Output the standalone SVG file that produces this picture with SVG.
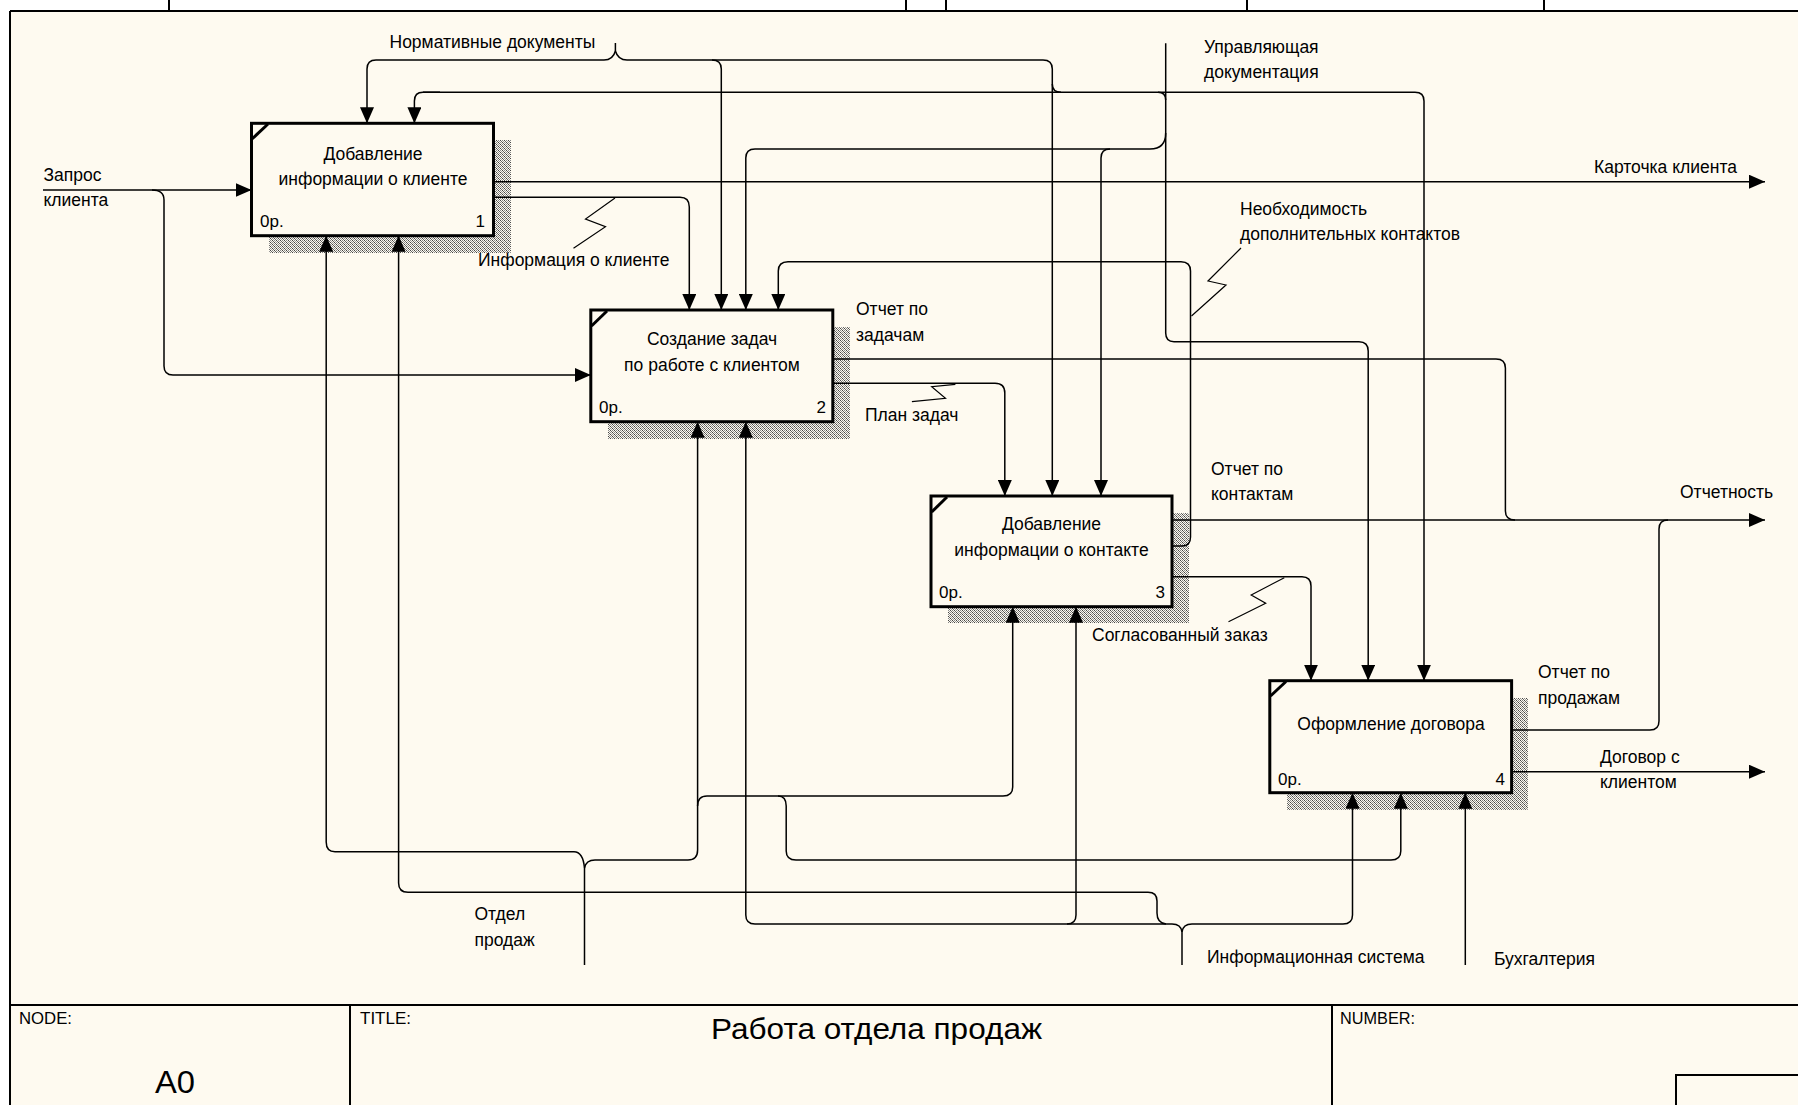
<svg xmlns="http://www.w3.org/2000/svg" width="1798" height="1105" viewBox="0 0 1798 1105">
  <defs>
    <pattern id="hatch" width="4" height="4" patternUnits="userSpaceOnUse">
      <rect width="4" height="4" fill="#fefaf0"/>
      <rect x="0" y="0" width="1" height="1" fill="#444"/>
      <rect x="2" y="0" width="1" height="1" fill="#888"/>
      <rect x="1" y="1" width="1" height="1" fill="#666"/>
      <rect x="3" y="1" width="1" height="1" fill="#999"/>
      <rect x="0" y="2" width="1" height="1" fill="#888"/>
      <rect x="2" y="2" width="1" height="1" fill="#444"/>
      <rect x="1" y="3" width="1" height="1" fill="#999"/>
      <rect x="3" y="3" width="1" height="1" fill="#666"/>
    </pattern>
    <marker id="ah" viewBox="0 0 16 14" refX="16" refY="7" markerWidth="16" markerHeight="14" markerUnits="userSpaceOnUse" orient="auto">
      <path d="M0,0 L16,7 L0,14 Z" fill="#000"/>
    </marker>
    <style>
      .bg { fill: #fefaf0; }
      .frame { stroke: #000; stroke-width: 2; fill: none; }
      .box { fill: #fefaf0; stroke: #000; stroke-width: 3; }
      .shadow { fill: url(#hatch); }
      .corner { stroke: #000; stroke-width: 3; }
      .ln { fill: none; stroke: #000; stroke-width: 1.5; }
      .arr { fill: none; stroke: #000; stroke-width: 1.5; marker-end: url(#ah); }
      .zig { fill: none; stroke: #000; stroke-width: 1.2; }
      text { font-family: "Liberation Sans", Arial, sans-serif; fill: #000; }
      .lbl { font-size: 17.5px; }
      .bt { font-size: 17.5px; text-anchor: middle; }
      .num { font-size: 17px; }
      .hdr { font-size: 17px; }
    </style>
  </defs>

  <!-- page -->
  <rect x="0" y="0" width="1798" height="1105" fill="#ffffff"/>
  <rect class="bg" x="10" y="11" width="1788" height="1094"/>
  <g id="frame">
    <line class="frame" x1="10" y1="11" x2="1798" y2="11"/>
    <line class="frame" x1="10" y1="11" x2="10" y2="1105"/>
    <line class="frame" x1="169" y1="0" x2="169" y2="11"/>
    <line class="frame" x1="906" y1="0" x2="906" y2="11"/>
    <line class="frame" x1="946" y1="0" x2="946" y2="11"/>
    <line class="frame" x1="1247" y1="0" x2="1247" y2="11"/>
    <line class="frame" x1="1544" y1="0" x2="1544" y2="11"/>
  </g>

  <!-- title block -->
  <g id="title-block">
    <line class="frame" x1="10" y1="1005" x2="1798" y2="1005"/>
    <line class="frame" x1="350" y1="1005" x2="350" y2="1105"/>
    <line class="frame" x1="1332" y1="1005" x2="1332" y2="1105"/>
    <rect x="1676" y="1075" width="130" height="40" fill="none" stroke="#000" stroke-width="2"/>
    <text class="hdr" x="19" y="1024" textLength="53" lengthAdjust="spacingAndGlyphs">NODE:</text>
    <text x="155" y="1093" font-size="31" textLength="40" lengthAdjust="spacingAndGlyphs">A0</text>
    <text class="hdr" x="360" y="1024" textLength="51" lengthAdjust="spacingAndGlyphs">TITLE:</text>
    <text x="711" y="1039" font-size="29" textLength="331" lengthAdjust="spacingAndGlyphs">Работа отдела продаж</text>
    <text class="hdr" x="1340" y="1024" textLength="75" lengthAdjust="spacingAndGlyphs">NUMBER:</text>
  </g>

  <!-- activity boxes -->
  <g id="box1">
    <rect class="shadow" x="269" y="140" width="242" height="113"/>
    <rect class="box" x="251.5" y="123.3" width="242" height="112.4"/>
    <line class="corner" x1="252" y1="139" x2="268" y2="124"/>
    <text class="bt" x="373" y="160">Добавление</text>
    <text class="bt" x="373" y="185">информации о клиенте</text>
    <text class="num" x="260" y="227">0р.</text>
    <text class="num" x="485" y="227" text-anchor="end">1</text>
  </g>
  <g id="box2">
    <rect class="shadow" x="608" y="327" width="242" height="112"/>
    <rect class="box" x="590.8" y="310" width="242" height="111.7"/>
    <line class="corner" x1="591.5" y1="326" x2="607" y2="311"/>
    <text class="bt" x="712" y="345">Создание задач</text>
    <text class="bt" x="712" y="371">по работе с клиентом</text>
    <text class="num" x="599" y="413">0р.</text>
    <text class="num" x="826" y="413" text-anchor="end">2</text>
  </g>
  <g id="box3">
    <rect class="shadow" x="948" y="513" width="241" height="110"/>
    <rect class="box" x="931" y="496" width="241" height="110.7"/>
    <line class="corner" x1="931.7" y1="512" x2="947" y2="497"/>
    <text class="bt" x="1051.5" y="530">Добавление</text>
    <text class="bt" x="1051.5" y="556">информации о контакте</text>
    <text class="num" x="939" y="598">0р.</text>
    <text class="num" x="1165" y="598" text-anchor="end">3</text>
  </g>
  <g id="box4">
    <rect class="shadow" x="1287" y="698" width="241" height="112"/>
    <rect class="box" x="1269.8" y="680.7" width="241.8" height="112"/>
    <line class="corner" x1="1270.5" y1="696" x2="1286" y2="681.5"/>
    <text class="bt" x="1391" y="730">Оформление договора</text>
    <text class="num" x="1278" y="785">0р.</text>
    <text class="num" x="1505" y="785" text-anchor="end">4</text>
  </g>

  <!-- arrows -->
  <g id="connectors">
    <!-- Запрос клиента -->
    <path class="arr" d="M43,190 H251.5"/>
    <path class="arr" d="M152,190 Q164,190 164,200 V366 Q164,375 173,375 H590.8"/>
    <!-- Карточка клиента -->
    <path class="arr" d="M493.5,181.7 H1765"/>
    <!-- Информация о клиенте -->
    <path class="arr" d="M493.5,197.3 H680 Q689.3,197.3 689.3,207 V310"/>
    <polyline class="zig" points="615,198 585.5,219 605.5,226.7 573.5,248.3"/>

    <!-- Нормативные документы -->
    <path class="ln" d="M615.4,43 V51"/>
    <path class="arr" d="M615.4,51 Q613,60 604,60 H376 Q367,60 367,69 V123.3"/>
    <path class="arr" d="M615.4,51 Q618,60 627,60 H1043 Q1052.3,60 1052.3,69 V496"/>
    <path class="arr" d="M712,60 Q721.3,60 721.3,69 V310"/>

    <!-- line at y=92 -->
    <path class="arr" d="M440,92.3 H423 Q414.4,92.3 414.4,101 V123.3"/>
    <path class="arr" d="M423,92.3 H1415 Q1424,92.3 1424,101 V680.7"/>
    <path class="ln" d="M1052.3,84 Q1052.3,92.3 1061,92.3"/>
    <path class="ln" d="M1158,92.3 Q1165.7,92.3 1165.7,100"/>

    <!-- Управляющая документация -->
    <path class="arr" d="M1165.7,43.3 V333 Q1165.7,341.7 1174,341.7 H1359 Q1368.2,341.7 1368.2,351 V680.7"/>
    <path class="arr" d="M1165.7,133 Q1165.7,149 1150,149 H755 Q745.8,149 745.8,158 V310"/>
    <path class="arr" d="M1110,149 Q1101,149 1101,158 V496"/>

    <!-- Необходимость дополнительных контактов -->
    <path class="arr" d="M1172,546 H1182 Q1190.5,546 1190.5,537 V271 Q1190.5,261.7 1181,261.7 H788 Q778.3,261.7 778.3,271 V310"/>
    <polyline class="zig" points="1241,248 1208,281 1226,285 1191.5,316"/>

    <!-- Отчет по задачам -->
    <path class="ln" d="M832.8,359 H1496 Q1505.4,359 1505.4,368 V511 Q1505.4,520 1515,520"/>
    <!-- План задач -->
    <path class="arr" d="M832.8,383.3 H995 Q1004.8,383.3 1004.8,393 V496"/>
    <polyline class="zig" points="955.4,384.3 931.7,386.7 945.5,398.3 911.9,401.7"/>

    <!-- Отчет по контактам / Отчетность -->
    <path class="arr" d="M1172,520 H1765"/>
    <!-- Согласованный заказ -->
    <path class="arr" d="M1172,576.7 H1302 Q1311,576.7 1311,586 V680.7"/>
    <polyline class="zig" points="1284.3,577.7 1251.2,595 1265.7,603.3 1228.5,621.7"/>

    <!-- Отчет по продажам -->
    <path class="ln" d="M1511.6,730 H1650 Q1659,730 1659,721 V529 Q1659,520 1668,520"/>
    <!-- Договор с клиентом -->
    <path class="arr" d="M1511.6,771.7 H1765"/>
    <!-- Бухгалтерия -->
    <path class="arr" d="M1465.3,965 V792.7"/>

    <!-- Информационная система -->
    <path class="ln" d="M1182,965 V932"/>
    <path class="arr" d="M1182,932 Q1181,924 1172,924 H755 Q745.8,924 745.8,915 V421.7"/>
    <path class="arr" d="M1182,932 Q1183,924 1192,924 H1343 Q1352.5,924 1352.5,915 V792.7"/>
    <path class="arr" d="M1067,924 Q1076,924 1076,915 V606.7"/>
    <path class="arr" d="M1166,924 Q1157,923 1157,913 V901 Q1157,892.3 1148,892.3 H408 Q398.6,892.3 398.6,883 V235.7"/>

    <!-- Отдел продаж -->
    <path class="ln" d="M584.5,965 V868"/>
    <path class="arr" d="M584.5,868 Q583,851.7 574,851.7 H335 Q326.2,851.7 326.2,842 V235.7"/>
    <path class="arr" d="M584.5,868 Q586,860 595,860 H688 Q697.6,860 697.6,850 V421.7"/>
    <path class="arr" d="M697.6,806 Q697.6,796 707,796 H1003 Q1012.7,796 1012.7,787 V606.7"/>
    <path class="arr" d="M778,796 Q786.2,796 786.2,806 V851 Q786.2,860 796,860 H1391 Q1400.8,860 1400.8,851 V792.7"/>
  </g>

  <!-- arrow labels -->
  <g id="labels">
    <text class="lbl" x="389.5" y="48">Нормативные документы</text>
    <text class="lbl" x="1204" y="53">Управляющая</text>
    <text class="lbl" x="1204" y="78">документация</text>
    <text class="lbl" x="43.5" y="181">Запрос</text>
    <text class="lbl" x="43.5" y="206">клиента</text>
    <text class="lbl" x="1594" y="173">Карточка клиента</text>
    <text class="lbl" x="1240" y="215">Необходимость</text>
    <text class="lbl" x="1240" y="240">дополнительных контактов</text>
    <text class="lbl" x="478" y="266">Информация о клиенте</text>
    <text class="lbl" x="856" y="315">Отчет по</text>
    <text class="lbl" x="856" y="341">задачам</text>
    <text class="lbl" x="865" y="421">План задач</text>
    <text class="lbl" x="1211" y="475">Отчет по</text>
    <text class="lbl" x="1211" y="500">контактам</text>
    <text class="lbl" x="1680" y="498">Отчетность</text>
    <text class="lbl" x="1092" y="641">Согласованный заказ</text>
    <text class="lbl" x="1538" y="678">Отчет по</text>
    <text class="lbl" x="1538" y="704">продажам</text>
    <text class="lbl" x="1600" y="763">Договор с</text>
    <text class="lbl" x="1600" y="788">клиентом</text>
    <text class="lbl" x="474.5" y="920">Отдел</text>
    <text class="lbl" x="474.5" y="946">продаж</text>
    <text class="lbl" x="1207" y="963">Информационная система</text>
    <text class="lbl" x="1494" y="965">Бухгалтерия</text>
  </g>
</svg>
